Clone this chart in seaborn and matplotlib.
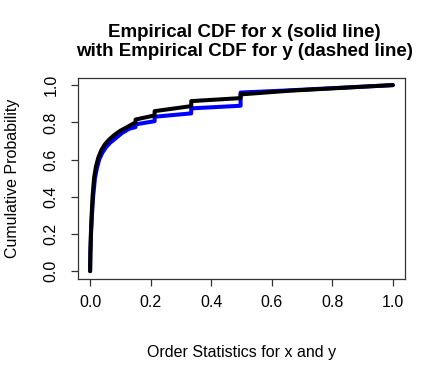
import numpy as np
import pandas as pd
import matplotlib
matplotlib.use("Agg")
import matplotlib.pyplot as plt
import seaborn as sns

# ECDF knots (x = order statistic, F = cumulative probability)
x_order = [0.0, 0.001, 0.003, 0.006, 0.010, 0.016, 0.022, 0.030, 0.040, 0.052, 0.066, 0.085,
           0.105, 0.130, 0.150, 0.150, 0.213, 0.213, 0.334, 0.334, 0.497, 0.497, 0.660, 1.000]
x_cdf = [0.0, 0.10, 0.20, 0.30, 0.40, 0.50, 0.55, 0.60, 0.635, 0.665, 0.69, 0.715,
         0.742, 0.766, 0.774, 0.789, 0.806, 0.830, 0.848, 0.875, 0.889, 0.960, 0.972, 1.000]

y_order = [0.0, 0.0008, 0.0025, 0.005, 0.008, 0.013, 0.019, 0.027, 0.037, 0.048, 0.062, 0.080,
           0.100, 0.122, 0.150, 0.150, 0.213, 0.213, 0.334, 0.334, 0.497, 0.497, 0.660, 1.000]
y_cdf = [0.0, 0.10, 0.20, 0.30, 0.40, 0.50, 0.56, 0.61, 0.65, 0.68, 0.706, 0.732,
         0.755, 0.774, 0.800, 0.815, 0.837, 0.860, 0.887, 0.914, 0.930, 0.950, 0.970, 1.000]

x_ticks = [0.0, 0.2, 0.4, 0.6, 0.8, 1.0]
y_ticks = [0.0, 0.2, 0.4, 0.6, 0.8, 1.0]

sns.set_style("ticks")
plt.rcParams["font.family"] = ["Liberation Sans", "DejaVu Sans"]
plt.rcParams["text.color"] = "black"
plt.rcParams["axes.labelcolor"] = "black"

fig = plt.figure(figsize=(4.45, 3.77), dpi=100)
ax = fig.add_axes([0.1753, 0.261, 0.7348, 0.533])

dfx = pd.DataFrame({"q": x_order, "F": x_cdf})
dfy = pd.DataFrame({"q": y_order, "F": y_cdf})
sns.lineplot(data=dfx, x="q", y="F", estimator=None, sort=False, color="#0000FF",
             linewidth=2.9, ax=ax)
sns.lineplot(data=dfy, x="q", y="F", estimator=None, sort=False, color="black",
             linewidth=2.9, ax=ax)

ax.set_xlim(-0.04, 1.04)
ax.set_ylim(-0.04, 1.04)
ax.set_xticks(x_ticks)
ax.set_yticks(y_ticks)
ax.set_xticklabels([f"{v:.1f}" for v in x_ticks], fontsize=11.5)
ax.set_yticklabels([f"{v:.1f}" for v in y_ticks], fontsize=11.5, rotation=90, va="center")
for s in ax.spines.values():
    s.set_visible(True)
    s.set_linewidth(0.9)
    s.set_color("#333333")
ax.tick_params(direction="out", length=5, width=0.9, colors="#333333", labelcolor="black")
ax.tick_params(axis="x", pad=7)
ax.tick_params(axis="y", pad=9)
ax.set_xlabel("Order Statistics for x and y", fontsize=11.5, labelpad=25)
ax.set_ylabel("Cumulative Probability", fontsize=11.5, labelpad=17)
fig.suptitle("Empirical CDF for x (solid line)\nwith Empirical CDF for y (dashed line)",
             fontsize=13.5, fontweight="bold", x=0.55, y=0.937, linespacing=1.15)

fig.savefig("out.png", dpi=100)
